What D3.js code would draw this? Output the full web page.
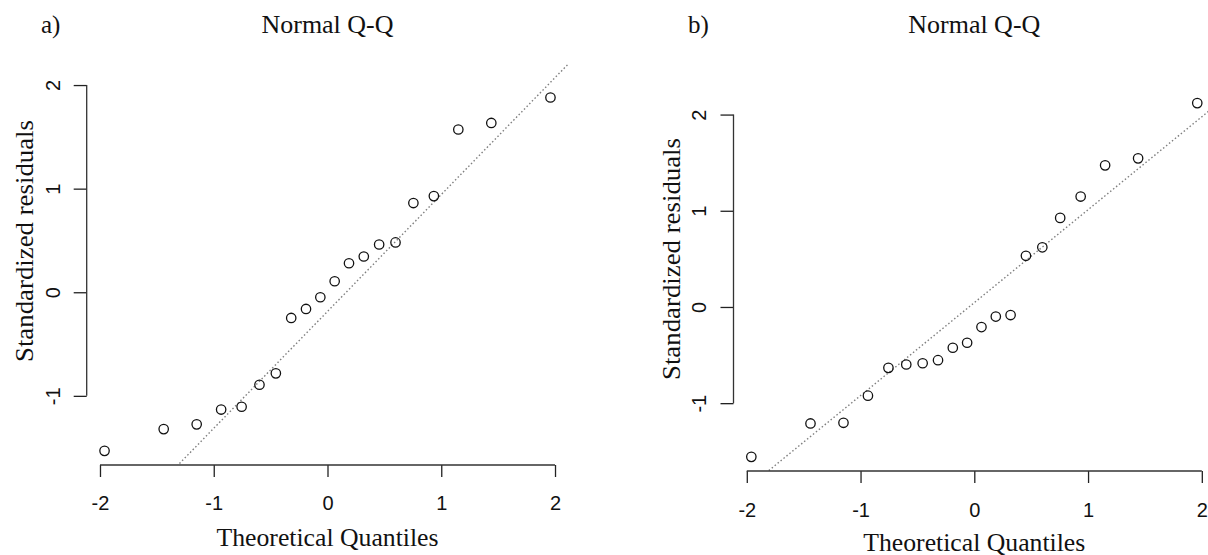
<!DOCTYPE html>
<html>
<head>
<meta charset="utf-8">
<script src="https://cdn.jsdelivr.net/npm/d3@7/dist/d3.min.js"></script>
<style>
  html, body { margin: 0; padding: 0; background: #fff; }
  svg { display: block; }
</style>
</head>
<body>
<svg id="chart" width="1208" height="555"></svg>
<script>
// Theoretical normal quantiles for n = 20 (same for both panels)
const theoreticalQuantiles = [-1.960, -1.440, -1.150, -0.935, -0.755, -0.598, -0.454, -0.319, -0.189, -0.063,
                               0.063, 0.189, 0.319, 0.454, 0.598, 0.755, 0.935, 1.150, 1.440, 1.960];

// Sorted standardized residuals, panel a)
const residualsA = [-1.531, -1.321, -1.275, -1.132, -1.105, -0.893, -0.783, -0.248, -0.161, -0.048,
                     0.106, 0.280, 0.345, 0.461, 0.481, 0.861, 0.928, 1.571, 1.634, 1.880];

// Sorted standardized residuals, panel b)
const residualsB = [-1.558, -1.211, -1.204, -0.922, -0.633, -0.598, -0.585, -0.553, -0.424, -0.372,
                    -0.209, -0.100, -0.084, 0.532, 0.620, 0.926, 1.148, 1.472, 1.545, 2.119];

const xTicks = [-2, -1, 0, 1, 2];
const yTicks = [-1, 0, 1, 2];
const panelTags = ["a)", "b)"];
const plotTitle = "Normal Q-Q";
const xTitle = "Theoretical Quantiles";
const yTitle = "Standardized residuals";

// Upper quartile of the standard normal, used for the reference line
const zQ3 = 0.6744898;

// Panel geometry (pixels)
const panels = [
  { tag: panelTags[0], y: residualsA,
    left: 86.7, right: 568.3, bottom: 465, unitY: 103.6,
    tagX: 41, titleY: 33, tickLabelY: 510, xTitleY: 546,
    yTickLabelX: 60, yTitleX: 33, yTitleCY: 241 },
  { tag: panelTags[1], y: residualsB,
    left: 733.5, right: 1215.1, bottom: 471, unitY: 96.2,
    tagX: 688, titleY: 33, tickLabelY: 516.5, xTitleY: 551,
    yTickLabelX: 706, yTitleX: 680, yTitleCY: 259 }
];

const svg = d3.select("#chart");
svg.append("rect").attr("width", 1208).attr("height", 555).attr("fill", "#fff");

const serif = "'Liberation Serif', 'Times New Roman', serif";
const sans = "'Liberation Sans', Arial, Helvetica, sans-serif";
const plainNumber = d => String(d);   // ASCII hyphen for negatives

panels.forEach((p, idx) => {
  const g = svg.append("g");

  // R-style 4% padding of the data range
  const xExt = d3.extent(theoreticalQuantiles);
  const yExt = d3.extent(p.y);
  const xPad = (xExt[1] - xExt[0]) * 0.04;
  const yPad = (yExt[1] - yExt[0]) * 0.04;
  const yDom = [yExt[0] - yPad, yExt[1] + yPad];

  const x = d3.scaleLinear()
    .domain([xExt[0] - xPad, xExt[1] + xPad])
    .range([p.left, p.right]);
  const y = d3.scaleLinear()
    .domain(yDom)
    .range([p.bottom, p.bottom - (yDom[1] - yDom[0]) * p.unitY]);

  // Reference line through the first and third quartiles
  const q1 = d3.quantile(p.y, 0.25);
  const q3 = d3.quantile(p.y, 0.75);
  const slope = (q3 - q1) / (2 * zQ3);
  const intercept = (q1 + q3) / 2;

  const clipId = "clip" + idx;
  svg.append("clipPath").attr("id", clipId)
    .append("rect")
    .attr("x", p.left).attr("y", 0)
    .attr("width", p.right - p.left).attr("height", p.bottom);

  const xs = x.domain();
  g.append("line")
    .attr("clip-path", `url(#${clipId})`)
    .attr("x1", x(xs[0])).attr("y1", y(intercept + slope * xs[0]))
    .attr("x2", x(xs[1])).attr("y2", y(intercept + slope * xs[1]))
    .attr("stroke", "#7f7f7f")
    .attr("stroke-width", 1.4)
    .attr("stroke-dasharray", "1.5,2.3");

  // Points
  g.selectAll("circle.pt")
    .data(p.y.map((v, i) => [theoreticalQuantiles[i], v]))
    .enter().append("circle")
    .attr("class", "pt")
    .attr("cx", d => x(d[0]))
    .attr("cy", d => y(d[1]))
    .attr("r", 4.7)
    .attr("fill", "none")
    .attr("stroke", "#111")
    .attr("stroke-width", 1.3);

  // Bottom axis
  const xAxis = d3.axisBottom(x)
    .tickValues(xTicks)
    .tickSize(12)
    .tickSizeOuter(0)
    .tickFormat(plainNumber);
  const gx = g.append("g")
    .attr("transform", `translate(0,${p.bottom})`)
    .call(xAxis);
  gx.select(".domain").remove();
  gx.append("line")
    .attr("x1", x(xTicks[0])).attr("x2", x(xTicks[xTicks.length - 1]))
    .attr("y1", 0).attr("y2", 0)
    .attr("stroke", "#333").attr("stroke-width", 1.3);
  gx.selectAll(".tick line").attr("stroke", "#222").attr("stroke-width", 1.3);
  gx.selectAll(".tick text")
    .attr("y", p.tickLabelY - p.bottom)
    .attr("dy", null)
    .attr("fill", "#111")
    .style("font-family", sans)
    .style("font-size", "20px");

  // Left axis
  const yAxis = d3.axisLeft(y)
    .tickValues(yTicks)
    .tickSize(13)
    .tickSizeOuter(0)
    .tickFormat(plainNumber);
  const gy = g.append("g")
    .attr("transform", `translate(${p.left},0)`)
    .call(yAxis);
  gy.select(".domain").remove();
  gy.append("line")
    .attr("x1", 0).attr("x2", 0)
    .attr("y1", y(yTicks[0])).attr("y2", y(yTicks[yTicks.length - 1]))
    .attr("stroke", "#333").attr("stroke-width", 1.3);
  gy.selectAll(".tick line").attr("stroke", "#222").attr("stroke-width", 1.3);
  gy.selectAll(".tick text")
    .attr("x", null).attr("dy", null)
    .attr("transform", `translate(${p.yTickLabelX - p.left},0) rotate(-90)`)
    .attr("text-anchor", "middle")
    .attr("fill", "#111")
    .style("font-family", sans)
    .style("font-size", "20px");

  const cx = x(0);

  // Titles
  g.append("text")
    .attr("x", cx).attr("y", p.titleY)
    .attr("text-anchor", "middle")
    .attr("textLength", 132).attr("lengthAdjust", "spacingAndGlyphs")
    .attr("fill", "#111")
    .style("font-family", serif).style("font-size", "25px")
    .text(plotTitle);

  g.append("text")
    .attr("x", p.tagX).attr("y", p.titleY)
    .attr("fill", "#111")
    .style("font-family", serif).style("font-size", "25px")
    .text(p.tag);

  g.append("text")
    .attr("x", cx).attr("y", p.xTitleY)
    .attr("text-anchor", "middle")
    .attr("textLength", 222).attr("lengthAdjust", "spacingAndGlyphs")
    .attr("fill", "#111")
    .style("font-family", serif).style("font-size", "25px")
    .text(xTitle);

  g.append("text")
    .attr("transform", `translate(${p.yTitleX},${p.yTitleCY}) rotate(-90)`)
    .attr("text-anchor", "middle")
    .attr("textLength", 242).attr("lengthAdjust", "spacingAndGlyphs")
    .attr("fill", "#111")
    .style("font-family", serif).style("font-size", "25px")
    .text(yTitle);
});
</script>
</body>
</html>
